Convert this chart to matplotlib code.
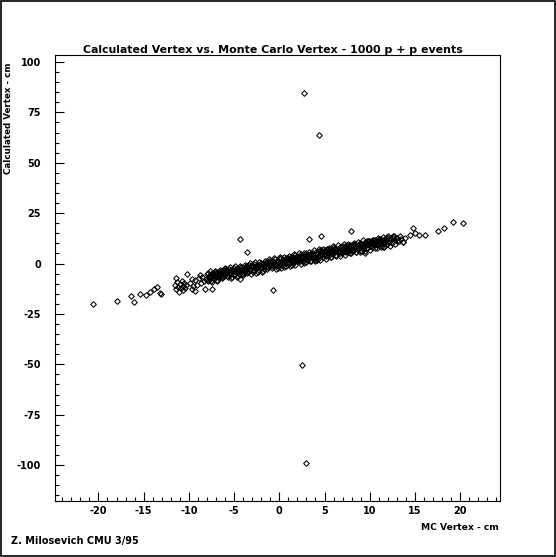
"""Calculated vertex vs Monte Carlo vertex, PAW-style scatter (1000 p + p events)."""

import numpy as np
import matplotlib
matplotlib.use("Agg")
import matplotlib.pyplot as plt
from matplotlib.patches import Rectangle
from matplotlib.ticker import MultipleLocator

plt.rcParams["font.family"] = ["DejaVu Sans"]
plt.rcParams["font.weight"] = "bold"
plt.rcParams["axes.unicode_minus"] = False

# --- data ----------------------------------------------------------------
# main band, one row per cm of MC vertex
band_x = [
    -7.96, -7.88, -7.79, -7.71, -7.63, -7.54, -7.46, -7.38, -7.29, -7.21, -7.13, -7.04,
    -6.96, -6.88, -6.79, -6.71, -6.63, -6.54, -6.46, -6.38, -6.29, -6.21, -6.13, -6.04,
    -5.96, -5.88, -5.79, -5.71, -5.63, -5.54, -5.46, -5.38, -5.29, -5.21, -5.13, -5.04,
    -4.96, -4.88, -4.79, -4.71, -4.63, -4.54, -4.46, -4.38, -4.29, -4.21, -4.13, -4.04,
    -3.96, -3.88, -3.79, -3.71, -3.63, -3.54, -3.46, -3.38, -3.29, -3.21, -3.13, -3.04,
    -2.96, -2.88, -2.79, -2.71, -2.63, -2.54, -2.46, -2.38, -2.29, -2.21, -2.13, -2.04,
    -1.96, -1.88, -1.79, -1.71, -1.63, -1.54, -1.46, -1.38, -1.29, -1.21, -1.13, -1.04,
    -0.96, -0.88, -0.79, -0.71, -0.63, -0.54, -0.46, -0.38, -0.29, -0.21, -0.13, -0.04,
    0.04, 0.12, 0.21, 0.29, 0.37, 0.46, 0.54, 0.62, 0.71, 0.79, 0.87, 0.96,
    1.04, 1.12, 1.21, 1.29, 1.37, 1.46, 1.54, 1.62, 1.71, 1.79, 1.87, 1.96,
    2.04, 2.12, 2.21, 2.29, 2.37, 2.46, 2.54, 2.62, 2.71, 2.79, 2.87, 2.96,
    3.04, 3.12, 3.21, 3.29, 3.37, 3.46, 3.54, 3.62, 3.71, 3.79, 3.87, 3.96,
    4.04, 4.12, 4.21, 4.29, 4.37, 4.46, 4.54, 4.62, 4.71, 4.79, 4.87, 4.96,
    5.04, 5.12, 5.21, 5.29, 5.37, 5.46, 5.54, 5.62, 5.71, 5.79, 5.87, 5.96,
    6.04, 6.12, 6.21, 6.29, 6.37, 6.46, 6.54, 6.62, 6.71, 6.79, 6.87, 6.96,
    7.04, 7.12, 7.21, 7.29, 7.37, 7.46, 7.54, 7.62, 7.71, 7.79, 7.87, 7.96,
    8.04, 8.12, 8.21, 8.29, 8.37, 8.46, 8.54, 8.62, 8.71, 8.79, 8.87, 8.96,
    9.04, 9.12, 9.21, 9.29, 9.37, 9.46, 9.54, 9.62, 9.71, 9.79, 9.87, 9.96,
    10.04, 10.12, 10.21, 10.29, 10.37, 10.46, 10.54, 10.62, 10.71, 10.79, 10.87, 10.96,
    11.04, 11.12, 11.21, 11.29, 11.37, 11.46, 11.54, 11.62, 11.71, 11.79, 11.87, 11.96,
    12.04, 12.12, 12.21, 12.29, 12.37, 12.46, 12.54, 12.62, 12.71, 12.79, 12.87, 12.96,
]
band_y = [
    -5.0, -8.8, -6.1, -7.5, -3.8, -6.8, -9.1, -4.9, -6.1, -7.6, -3.8, -5.0,
    -6.3, -8.6, -4.4, -5.5, -7.1, -3.3, -4.5, -3.5, -7.4, -4.7, -6.1, -2.3,
    -2.8, -4.0, -3.0, -6.8, -4.2, -5.6, -1.8, -4.8, -7.2, -3.0, -4.1, -5.6,
    -5.1, -1.3, -4.3, -6.6, -2.5, -3.6, -5.1, -1.3, -2.6, -1.6, -5.4, -2.7,
    -3.1, -4.6, -0.8, -2.0, -1.1, -4.9, -2.2, -3.6, 0.1, -2.9, -5.2, -1.0,
    -4.4, -1.7, -3.1, 0.7, -2.4, -4.7, -0.5, -1.6, -3.2, 0.6, -0.6, 0.4,
    -4.2, 0.0, -1.1, -2.6, 1.1, -0.1, 0.9, -2.9, -0.3, -1.7, 2.1, -0.9,
    0.4, 1.4, -2.4, 0.3, -1.2, 2.6, -0.4, -2.7, 1.4, 0.3, -1.2, 2.6,
    3.1, 0.1, -2.2, 2.0, 0.8, -0.7, 3.1, 1.9, 2.8, -1.0, 1.7, 0.3,
    -0.2, 3.6, 2.4, 3.4, -0.5, 2.2, 0.8, 4.6, 1.5, -0.8, 3.4, 2.3,
    2.7, 1.3, 5.1, 2.1, -0.3, 3.9, 2.8, 1.3, 5.0, 3.8, 4.8, 1.0,
    4.4, 3.3, 1.8, 5.6, 4.3, 5.3, 1.5, 4.2, 2.7, 6.5, 3.5, 1.2,
    5.8, 2.0, 4.7, 3.3, 7.0, 4.0, 1.7, 5.9, 4.7, 3.2, 7.0, 5.8,
    4.5, 2.2, 6.4, 5.3, 3.7, 7.5, 6.3, 7.3, 3.4, 6.1, 4.7, 8.5,
    8.0, 6.8, 7.8, 4.0, 6.6, 5.2, 9.0, 6.0, 3.6, 7.8, 6.7, 5.2,
    5.7, 9.5, 6.5, 4.2, 8.3, 7.2, 5.7, 9.5, 8.2, 9.2, 5.4, 8.1,
    7.7, 6.2, 10.0, 8.8, 9.7, 5.9, 8.6, 7.2, 10.9, 7.9, 5.6, 9.8,
    6.4, 9.1, 7.7, 11.5, 8.4, 6.1, 10.3, 9.2, 7.6, 11.4, 10.2, 11.2,
    6.6, 10.8, 9.7, 8.2, 11.9, 10.7, 11.7, 7.9, 10.5, 9.1, 12.9, 9.9,
    11.2, 12.2, 8.4, 11.1, 9.6, 13.4, 10.4, 8.1, 12.2, 11.1, 9.6, 13.4,
    13.9, 10.9, 8.6, 12.8, 11.6, 10.1, 13.9, 12.7, 13.6, 9.8, 12.5, 11.1,
]

# second pass over the dense part of the band
core_x = [
    -8.0, -7.84, -7.75, -7.59, -7.5, -7.34, -7.25, -7.09,
    -7.0, -6.84, -6.75, -6.59, -6.5, -6.34, -6.25, -6.09,
    -6.0, -5.84, -5.75, -5.59, -5.5, -5.34, -5.25, -5.09,
    -5.0, -4.84, -4.75, -4.59, -4.5, -4.34, -4.25, -4.09,
    -4.0, -3.84, -3.75, -3.59, -3.5, -3.34, -3.25, -3.09,
    -3.0, -2.84, -2.75, -2.59, -2.5, -2.34, -2.25, -2.09,
    -2.0, -1.84, -1.75, -1.59, -1.5, -1.34, -1.25, -1.09,
    -1.0, -0.84, -0.75, -0.59, -0.5, -0.34, -0.25, -0.09,
    0.0, 0.16, 0.25, 0.41, 0.5, 0.66, 0.75, 0.91,
    1.0, 1.16, 1.25, 1.41, 1.5, 1.66, 1.75, 1.91,
    2.0, 2.16, 2.25, 2.41, 2.5, 2.66, 2.75, 2.91,
    3.0, 3.16, 3.25, 3.41, 3.5, 3.66, 3.75, 3.91,
    4.0, 4.16, 4.25, 4.41, 4.5, 4.66, 4.75, 4.91,
    5.0, 5.16, 5.25, 5.41, 5.5, 5.66, 5.75, 5.91,
    6.0, 6.16, 6.25, 6.41, 6.5, 6.66, 6.75, 6.91,
    7.0, 7.16, 7.25, 7.41, 7.5, 7.66, 7.75, 7.91,
    8.0, 8.16, 8.25, 8.41, 8.5, 8.66, 8.75, 8.91,
    9.0, 9.16, 9.25, 9.41, 9.5, 9.66, 9.75, 9.91,
    10.0, 10.16, 10.25, 10.41, 10.5, 10.66, 10.75, 10.91,
    11.0, 11.16, 11.25, 11.41, 11.5, 11.66, 11.75, 11.91,
]
core_y = [
    -8.0, -4.6, -6.7, -5.3, -8.8, -5.5, -6.8, -4.4,
    -4.8, -8.2, -5.0, -6.2, -3.9, -6.5, -3.1, -5.2,
    -5.7, -3.3, -6.0, -2.5, -4.7, -3.3, -6.7, -3.5,
    -2.0, -4.1, -2.8, -6.1, -3.0, -4.2, -1.8, -4.5,
    -5.6, -2.4, -3.7, -1.2, -4.0, -0.5, -2.6, -1.3,
    -0.7, -3.4, 0.0, -2.0, -0.8, -4.1, -0.9, -2.2,
    -1.5, -0.2, -3.6, -0.3, -1.7, 0.8, -1.9, 1.5,
    0.2, -1.1, 1.3, -1.3, 2.1, 0.0, 1.3, -2.1,
    -0.8, 2.6, 0.5, 1.9, -1.6, 1.7, 0.4, 2.8,
    2.4, -1.0, 2.2, 1.0, 3.4, 0.7, 4.1, 2.0,
    1.5, 3.9, 1.2, 4.7, 2.6, 3.9, 0.5, 3.7,
    5.2, 3.1, 4.4, 1.1, 4.3, 3.0, 5.4, 2.7,
    1.6, 4.8, 3.5, 6.0, 3.3, 6.7, 4.6, 5.9,
    6.5, 3.8, 7.2, 5.2, 6.5, 3.1, 6.3, 5.0,
    5.7, 7.0, 3.6, 6.9, 5.6, 8.0, 5.3, 8.7,
    7.4, 6.1, 8.5, 5.9, 9.3, 7.2, 8.5, 5.1,
    6.4, 9.8, 7.7, 9.1, 5.7, 8.9, 7.6, 10.0,
    9.6, 6.2, 9.4, 8.2, 10.6, 7.9, 11.3, 9.2,
    8.7, 11.1, 8.4, 11.9, 9.8, 11.1, 7.7, 10.9,
    12.4, 10.3, 11.6, 8.3, 11.5, 10.2, 12.6, 9.9,
]

# edges of the band
edge_x = [-11.5, -11.4, -11.3, -11.2, -11.1, -11.0, -10.9, -10.8, -10.7, -10.6, -10.5, -10.4, -10.3,
          -9.9, -9.7, -9.5, -9.3, -9.1, -8.9, -8.7, -8.5, -8.3, -8.1, -9.6, -8.8,
          13.05, 13.2, 13.35, 13.5, 13.7, 13.9]
edge_y = [-10.5, -12.8, -9.2, -11.6, -13.9, -10.1, -12.3, -8.6, -11.0, -13.2, -9.8, -12.0, -10.6,
          -9.8, -7.9, -11.2, -8.4, -10.5, -7.2, -9.9, -6.8, -8.9, -7.7, -12.4, -5.6,
          12.8, 11.0, 13.9, 12.1, 10.6, 12.6]

# isolated points along the tails and just off the band
tail_x = [-20.6, -17.9, -16.4, -16.1, -15.4, -14.7, -14.3, -13.9, -13.5, -13.2, -13.1,
          -11.4, -10.2, -9.3, -8.2, -7.4, -4.35, -3.6, -4.3, -0.73,
          3.3, 4.6, 7.9, 9.5, 13.7, 14.4, 14.75, 15.0, 15.4, 16.1, 17.5, 18.2, 19.2, 20.35]
tail_y = [-20.3, -18.5, -16.1, -19.2, -15.2, -15.6, -14.0, -12.8, -11.8, -14.6, -15.1,
          -7.3, -5.2, -13.6, -12.6, -12.6, 12.3, 5.5, -7.7, -13.2,
          12.3, 13.6, 16.0, 5.4, 10.8, 14.1, 17.5, 15.3, 14.1, 14.1, 16.3, 17.5, 20.4, 19.9]

# far outliers
out_x = [2.77, 4.42, 2.54, 2.92]
out_y = [84.8, 63.8, -50.4, -99.2]

mc_x = band_x + core_x + edge_x + tail_x + out_x
calc_y = band_y + core_y + edge_y + tail_y + out_y

# --- figure ---------------------------------------------------------------
fig = plt.figure(figsize=(5.56, 5.57), dpi=100)
ax = fig.add_axes([55 / 556, 1 - 500.7 / 557, 445 / 556, 445.7 / 557])

ax.plot(mc_x, calc_y, ls="none", marker="D", ms=2.9, mfc="none",
        mec="black", mew=0.75)

ax.set_xlim(-24.8, 24.4)
ax.set_ylim(-117.7, 103.5)

ax.xaxis.set_major_locator(MultipleLocator(5))
ax.xaxis.set_minor_locator(MultipleLocator(1))
ax.yaxis.set_major_locator(MultipleLocator(25))
ax.yaxis.set_minor_locator(MultipleLocator(5))
ax.tick_params(which="both", direction="in", top=False, right=False,
               width=0.8, labelsize=7)
ax.tick_params(which="major", length=6.5)
ax.tick_params(which="minor", length=3.2)
ax.tick_params(axis="y", pad=10)
ax.tick_params(axis="x", pad=4)
for lbl in ax.get_xticklabels() + ax.get_yticklabels():
    lbl.set_fontweight("bold")
for sp in ax.spines.values():
    sp.set_linewidth(0.8)

fig.text(273 / 556, 1 - 53 / 557,
         "Calculated Vertex vs. Monte Carlo Vertex - 1000 p + p events",
         ha="center", va="baseline", fontsize=7.95, fontweight="bold")
fig.text(9 / 556, 1 - 62 / 557, "Calculated Vertex - cm", rotation=90,
         ha="center", va="top", fontsize=6.3, fontweight="bold")
fig.text(499 / 556, 1 - 528 / 557, "MC Vertex - cm",
         ha="right", va="center", fontsize=6.6, fontweight="bold")
fig.text(11 / 556, 1 - 541 / 557, "Z. Milosevich CMU 3/95",
         ha="left", va="center", fontsize=7.0, fontweight="bold")

# outer frame around the whole picture
fig.patches.append(Rectangle((0.5 / 556, 1.5 / 557), 554.5 / 556, 555 / 557,
                             transform=fig.transFigure, fill=False,
                             lw=1.2, ec="black"))

fig.savefig("out.png", dpi=100)
